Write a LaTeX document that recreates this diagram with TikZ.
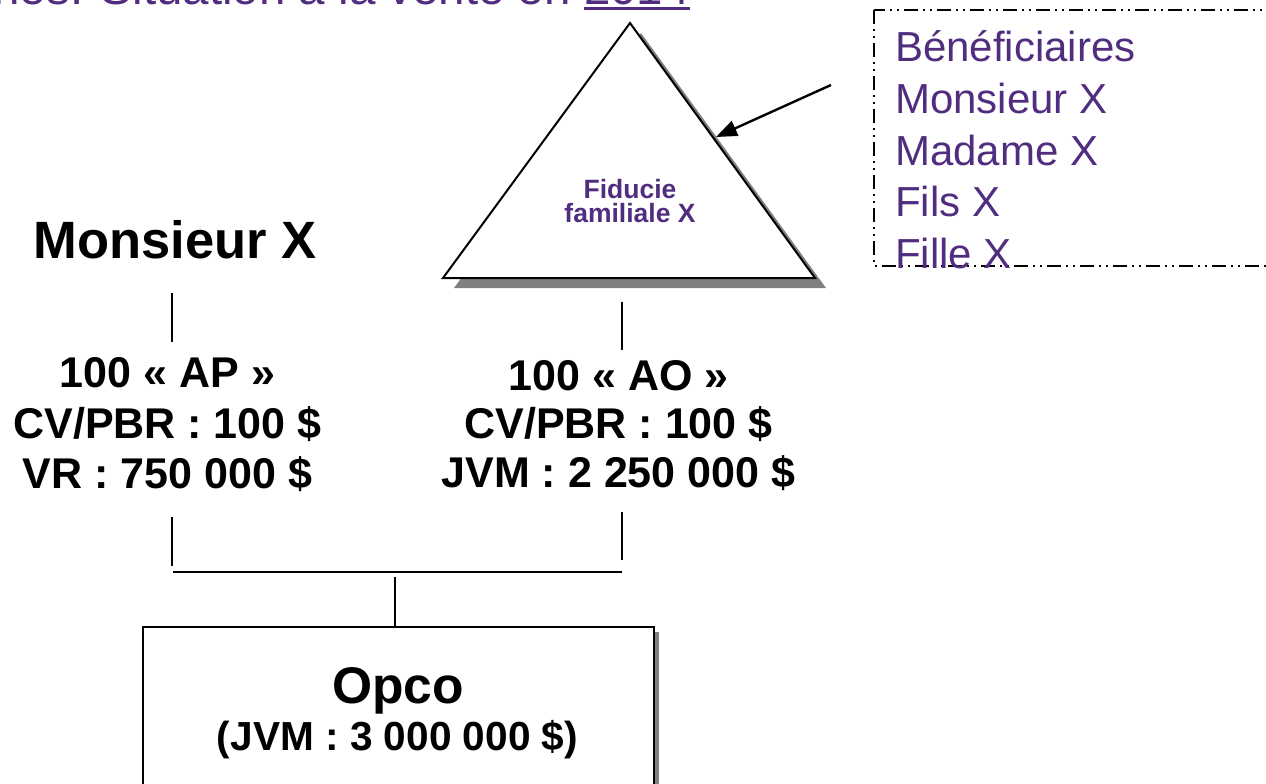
\documentclass[tikz,border=0pt]{standalone}
\usepackage{fontspec}
\setmainfont{Liberation Sans}
\usetikzlibrary{arrows.meta}
\definecolor{fidpurple}{RGB}{80,45,127}
\definecolor{shadowgray}{RGB}{128,128,128}
\tikzset{
  thinline/.style={line width=1.4pt, black},
  holdline/.style={line width=2.4pt, black},
  benef/.style={anchor=base west, inner sep=0pt, text=fidpurple,
    font=\fontsize{42}{48}\selectfont},
  share/.style={anchor=base, inner sep=0pt,
    font=\fontsize{43}{50}\bfseries\selectfont},
  dashdotdot/.style={line width=1.8pt,
    dash pattern=on 14pt off 5pt on 2pt off 5pt on 2pt off 5pt},
}
\begin{document}
\begin{tikzpicture}[x=1pt,y=-1pt]
\useasboundingbox (0,0) rectangle (1266,784);
\clip (0,0) rectangle (1266,784);

% heading, running off the top edge
\node[anchor=base east, inner sep=0pt, text=fidpurple,
  font=\fontsize{47.5}{54}\selectfont] (title) at (690,5)
  {nes: Situation à la vente en 2014};
\fill[fidpurple] (584,7) rectangle (690,10);

% beneficiaries frame
\draw[dashdotdot] (874,10) rectangle (1300,266);
\node[benef] (b1) at (895,62)  {Bénéficiaires};
\node[benef] (b2) at (895,113) {Monsieur X};
\node[benef] (b3) at (895,165) {Madame X};
\node[benef] (b4) at (895,216) {Fils X};
\node[benef] (b5) at (895,268) {Fille X};

% family trust triangle with drop shadow
\coordinate (apex) at (630,23);
\coordinate (tl) at (443,278);
\coordinate (tr) at (815,278);
\fill[shadowgray] ([shift={(11,10)}]apex) -- ([shift={(11,10)}]tl)
  -- ([shift={(11,10)}]tr) -- cycle;
\draw[line width=2pt, fill=white, line join=miter] (apex) -- (tl) -- (tr) -- cycle;
\node[align=center, inner sep=0pt, text=fidpurple,
  font=\fontsize{26.5}{24.5}\bfseries\selectfont] (trust) at (630,201)
  {Fiducie\\familiale X};

% pointer from the frame to the trust
\coordinate (ptail) at (831,85);
\coordinate (ptip) at (716,137);
\draw[line width=2.4pt, -{Triangle[length=21pt, width=16pt]}] (ptail) -- (ptip);

% shareholder
\node[anchor=base, inner sep=0pt, font=\fontsize{52.5}{58}\bfseries\selectfont]
  (mx) at (175,258) {Monsieur X};

% preferred shares
\node[share] (ap1) at (167.5,387) {100 « AP »};
\node[share] (ap2) at (167.5,438) {CV/PBR : 100 \$};
\node[share] (ap3) at (167.5,488) {VR : 750 000 \$};

% common shares
\node[share] (ao1) at (618.5,390) {100 « AO »};
\node[share] (ao2) at (618.5,438) {CV/PBR : 100 \$};
\node[share] (ao3) at (618.5,487) {JVM : 2 250 000 \$};

% operating company box with shadow
\fill[shadowgray] (646,632) rectangle (659,800);
\node[draw, line width=2.4pt, fill=white, minimum width=511pt,
  minimum height=200pt, anchor=north west, inner sep=0pt] (opco) at (142,626) {};
\node[anchor=base, inner sep=0pt, font=\fontsize{51.5}{58}\bfseries\selectfont]
  (opconame) at (398,703) {Opco};
\node[anchor=base, inner sep=0pt, font=\fontsize{40.6}{46}\bfseries\selectfont]
  (opcoval) at (397.5,750) {(JVM : 3 000 000 \$)};

% connectors
\coordinate (mxa) at (172,293);
\coordinate (mxb) at (172,342);
\coordinate (tra) at (622,302);
\coordinate (trb) at (622,350);
\coordinate (apa) at (172,517);
\coordinate (apb) at (172,566);
\coordinate (aoa) at (622,512);
\coordinate (aob) at (622,560);
\coordinate (barl) at (173,572);
\coordinate (barr) at (622,572);
\coordinate (stem) at (395,577);
\draw[thinline] (mxa) -- (mxb);
\draw[thinline] (tra) -- (trb);
\draw[thinline] (apa) -- (apb);
\draw[thinline] (aoa) -- (aob);
\draw[holdline] (barl) -- (barr);
\draw[thinline] (stem) -- (stem |- opco.north);
\end{tikzpicture}
\end{document}
